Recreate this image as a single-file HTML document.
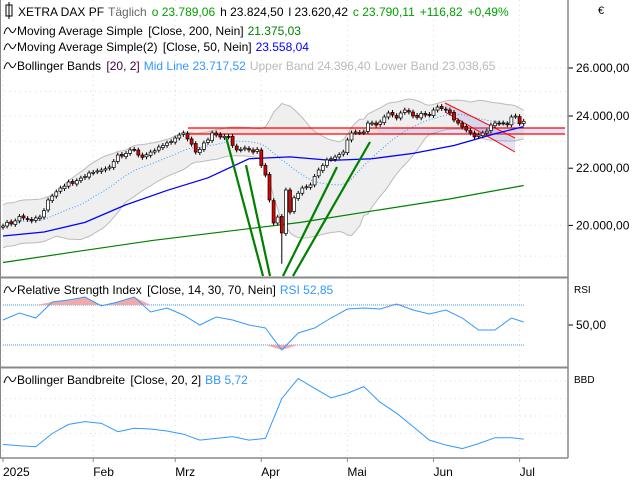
<!DOCTYPE html>
<html><head><meta charset="utf-8"><style>
body{margin:0;background:#fff;}
svg{display:block;font-family:"Liberation Sans","DejaVu Sans",sans-serif;}
</style></head><body>
<svg id="c" width="640" height="480" viewBox="0 0 640 480" xmlns="http://www.w3.org/2000/svg">
<rect x="0" y="0" width="640" height="480" fill="#fff"/>
<g id="grid"></g>
<g id="main"></g>
<g id="rsi"></g>
<g id="bbd"></g>
<g id="frame"></g>
<g font-size="12">
  <rect x="6" y="5" width="6" height="11" fill="none" stroke="#000"/><line x1="9" y1="2" x2="9" y2="19" stroke="#000"/>
  <text x="18" y="16"><tspan fill="#000">XETRA DAX PF</tspan><tspan fill="#666" dx="4">Täglich</tspan><tspan fill="#00a000" dx="5">o 23.789,06</tspan><tspan fill="#000" dx="5">h 23.824,50</tspan><tspan fill="#000" dx="5">l 23.620,42</tspan><tspan fill="#00a000" dx="5">c 23.790,11</tspan><tspan fill="#00a000" dx="5">+116,82</tspan><tspan fill="#00a000" dx="5">+0,49%</tspan></text>
  <path d="M4 34 Q7 24 10 30 T16 28" fill="none" stroke="#000"/>
  <text x="17" y="35">Moving Average Simple <tspan dx="2">[Close, 200, Nein]</tspan><tspan fill="#008000" dx="4">21.375,03</tspan></text>
  <path d="M4 50 Q7 40 10 46 T16 44" fill="none" stroke="#000"/>
  <text x="17" y="51">Moving Average Simple(2) <tspan dx="2">[Close, 50, Nein]</tspan><tspan fill="#0000ff" dx="4">23.558,04</tspan></text>
  <path d="M4 69 Q7 59 10 65 T16 63" fill="none" stroke="#000"/>
  <text x="17" y="70">Bollinger Bands <tspan fill="#400040" dx="2">[20, 2]</tspan><tspan fill="#3399ff" dx="4">Mid Line 23.717,52</tspan><tspan fill="#bbbbbb" dx="4">Upper Band 24.396,40</tspan><tspan fill="#bbbbbb" dx="4">Lower Band 23.038,65</tspan></text>
  <text x="598" y="14" font-size="11">€</text>
</g>
<g font-size="12">
  <path d="M4 293 Q7 283 10 289 T16 287" fill="none" stroke="#000"/>
  <text x="17" y="294">Relative Strength Index <tspan dx="2">[Close, 14, 30, 70, Nein]</tspan><tspan fill="#3399ff" dx="4">RSI 52,85</tspan></text>
  <text x="574" y="293" font-size="10">RSI</text>
  <path d="M4 383 Q7 373 10 379 T16 377" fill="none" stroke="#000"/>
  <text x="17" y="384">Bollinger Bandbreite <tspan dx="2">[Close, 20, 2]</tspan><tspan fill="#3399ff" dx="4">BB 5,72</tspan></text>
  <text x="574" y="383" font-size="10">BBD</text>
</g>
</svg>
<script>
const closes=[19980,20100,20050,20150,20300,20250,20200,20150,20250,20280,20500,20865,21000,21150,21285,21350,21500,21450,21550,21640,21700,21825,
21850,21900,21935,21980,22045,22250,22490,22450,22550,22680,22700,22490,22400,22500,22600,22650,22790,22850,22945,23000,
23135,23250,23330,23100,22900,22600,22700,22945,23060,23330,23250,23175,23200,23175,22850,22680,22700,22755,22680,22600,22700,
22100,21750,20865,20080,20280,19750,21215,20450,20940,21100,21285,21330,21395,21700,21935,22100,22305,22350,22415,22500,
22600,23060,23330,23370,23350,23370,23720,23720,23640,23760,23960,24120,24040,23920,24120,24240,24160,24000,23950,24100,
24040,24040,24240,24360,24300,24240,24120,23840,23720,23565,23445,23330,23175,23250,23330,23400,23640,23720,23700,23720,23650,
23960,24000,23700,23790];
const ma200=[18800,19150,19500,19800,20100,20500,20900,21375];
const ma50=[19650,19780,20100,20700,21200,21650,22350,22420,22290,22350,22550,22850,23300,23580];
// RSI and bandwidth sampled every 4 bars (last value = final bar)
const rsiVals=[55,62,57,73,75,78,69,73,78,63,67,60,50,58,55,50,47,25,42,47,57,66,67,66,71,65,61,65,57,45,45,57,53];
const bbwVals=[3.9,3.5,3.2,7.0,9.6,10.4,9.9,7.5,8.5,8.3,7.7,6.8,5.1,5.6,6.1,5.1,5.6,17.0,22.7,19.9,17.2,18.5,20.4,15.9,12.8,9.0,5.1,3.7,2.7,4.1,5.8,5.8,5.4];
const monthLabels=["2025","Feb","Mrz","Apr","Mai","Jun","Jul"];
const monthIdx=[0,22,42,63,84,105,126];
const priceTicks=[26000,24000,22000,20000];
const priceTickLabels=["26.000,00","24.000,00","22.000,00","20.000,00"];
const rsiLevels=[70,50,30];

const NS="http://www.w3.org/2000/svg";
function el(p,t,a){const e=document.createElementNS(NS,t);for(const k in a)e.setAttribute(k,a[k]);p.appendChild(e);return e;}
const X=i=>3+i*4.1;
const Y=p=>116-600*Math.log(p/24000);
const YR=v=>375-v;
const YB=v=>458-v*3.5;
const G=document.getElementById('grid'),M=document.getElementById('main'),R=document.getElementById('rsi'),B=document.getElementById('bbd'),F=document.getElementById('frame');
const N=closes.length;
const SX=k=>X(Math.min(k*4,N-1));

// grid
monthIdx.forEach((mi,k)=>{
  const l=el(G,'line',{x1:X(mi),x2:X(mi),y1:0,y2:458,stroke:'#ddd','stroke-dasharray':'1,4'});
  
  
  const t=el(F,'text',{x:X(mi),y:476,'font-size':12});
  t.textContent=monthLabels[k];
  
  
  el(F,'line',{x1:X(mi),x2:X(mi),y1:458,y2:462,stroke:'#888'});
});
[26000,25000,24000,23000,22000,21000,20000,19000].forEach(p=>{el(G,'line',{x1:0,x2:568,y1:Y(p),y2:Y(p),stroke:'#ddd','stroke-dasharray':'1,4'});});
priceTicks.forEach((p,k)=>{
  el(F,'line',{x1:568,x2:573,y1:Y(p),y2:Y(p),stroke:'#000'});
  const t=el(F,'text',{x:576,y:Y(p)+4,'font-size':12});
  t.textContent=priceTickLabels[k];
  
  
});

// bollinger
const mid=[],up=[],lo=[];
for(let i=0;i<N;i++){const s=Math.max(0,i-19);const w=closes.slice(s,i+1);const m=w.reduce((a,b)=>a+b,0)/w.length;const sd=Math.sqrt(w.reduce((a,b)=>a+(b-m)*(b-m),0)/w.length);const floor=i<16?0.018:0.012;const sdd=Math.max(sd,m*floor);mid.push(m);up.push(m+2*sdd);lo.push(m-2*sdd);}
let pts=up.map((v,i)=>X(i)+','+Y(v)).join(' ')+' '+lo.map((v,i)=>X(i)+','+Y(v)).reverse().join(' ');
let e=el(M,'polygon',{points:pts,fill:'#efefef',stroke:'none'});


e=el(M,'polyline',{points:up.map((v,i)=>X(i)+','+Y(v)).join(' '),fill:'none',stroke:'#bbb'});


e=el(M,'polyline',{points:lo.map((v,i)=>X(i)+','+Y(v)).join(' '),fill:'none',stroke:'#bbb'});


e=el(M,'polyline',{points:mid.map((v,i)=>X(i)+','+Y(v)).join(' '),fill:'none',stroke:'#3399ff','stroke-dasharray':'1,2'});



// support zone
e=el(M,'rect',{x:188,y:128,width:190,height:6,fill:'rgba(255,120,120,0.15)'});


el(M,'rect',{x:378,y:128,width:187,height:6,fill:'rgba(140,140,230,0.25)'});
el(M,'line',{x1:188,x2:565,y1:128,y2:128,stroke:'#f00','stroke-width':1.3});
el(M,'line',{x1:188,x2:565,y1:134,y2:134,stroke:'#f00','stroke-width':1.3});
e=el(M,'polygon',{points:'445,103 515,138 515,152 445,112',fill:'rgba(140,140,230,0.25)'});


el(M,'line',{x1:445,y1:103,x2:515,y2:138,stroke:'#f00'});
el(M,'line',{x1:445,y1:112,x2:515,y2:152,stroke:'#f00'});

// MAs
const ma200pts=ma200.map((v,k)=>X(k*(N-1)/(ma200.length-1))+','+Y(v)).join(' ');
e=el(M,'polyline',{points:ma200pts,fill:'none',stroke:'#008000','stroke-width':1.2});


const ma50pts=ma50.map((v,k)=>X(Math.min(k*10,N-1))+','+Y(v)).join(' ');
e=el(M,'polyline',{points:ma50pts,fill:'none',stroke:'#0000ff','stroke-width':1.3});



// candles
for(let i=0;i<N;i++){
  const c=closes[i],o=i?closes[i-1]*(1+((i%3)-1)*0.001):c*0.998;
  const hi=Math.max(o,c)*1.004,lw=Math.min(o,c)*(i===68?0.95:0.996);
  const x=X(i);
  el(M,'line',{x1:x,x2:x,y1:Y(hi),y2:Math.min(Y(lw),276),stroke:'#000'});
  const top=Y(Math.max(o,c)),bot=Y(Math.min(o,c));
  const r=el(M,'rect',{x:x-1.5,y:top,width:3,height:Math.max(bot-top,1),fill:c>=o?'#fff':'#e00000',stroke:'#000','stroke-width':0.7});
  
  
}
[[226,137,263,276],[246,165,270,276],[283,276,337,167],[293,276,370,142]].forEach(l=>{
  const t=el(M,'line',{x1:l[0],y1:l[1],x2:l[2],y2:l[3],stroke:'#008000','stroke-width':2.2});
  
  
});

// RSI
rsiLevels.forEach(v=>{el(R,'line',{x1:3,x2:525,y1:YR(v),y2:YR(v),stroke:v===50?'#ddd':'#3399ff','stroke-dasharray':v===50?'1,4':'1,1'});});
let ob='M'+SX(0)+','+YR(70);rsiVals.forEach((v,k)=>{ob+=' L'+SX(k)+','+Math.min(YR(v),YR(70));});ob+=' L'+SX(rsiVals.length-1)+','+YR(70)+'Z';
el(R,'path',{d:ob,fill:'#f4a8a8'});
let os='M'+SX(0)+','+YR(30);rsiVals.forEach((v,k)=>{os+=' L'+SX(k)+','+Math.max(YR(v),YR(30));});os+=' L'+SX(rsiVals.length-1)+','+YR(30)+'Z';
el(R,'path',{d:os,fill:'#f4a8a8'});
e=el(R,'polyline',{points:rsiVals.map((v,k)=>SX(k)+','+YR(v)).join(' '),fill:'none',stroke:'#3399ff'});


el(F,'line',{x1:568,x2:573,y1:325,y2:325,stroke:'#000'});
e=el(F,'text',{x:576,y:329,'font-size':12});e.textContent='50,00';



// BBD
[7,12,17,22].forEach(v=>el(B,'line',{x1:0,x2:568,y1:YB(v),y2:YB(v),stroke:'#ddd','stroke-dasharray':'1,4'}));
e=el(B,'polyline',{points:bbwVals.map((v,k)=>SX(k)+','+YB(v)).join(' '),fill:'none',stroke:'#3399ff'});



// frame
el(F,'line',{x1:568,x2:568,y1:0,y2:458,stroke:'#888','stroke-width':1.5});
el(F,'line',{x1:0,x2:568,y1:277.5,y2:277.5,stroke:'#888','stroke-width':2});
el(F,'line',{x1:0,x2:568,y1:367.5,y2:367.5,stroke:'#888','stroke-width':2});
el(F,'line',{x1:0,x2:568,y1:458,y2:458,stroke:'#888','stroke-width':1.5});
el(F,'line',{x1:0.5,x2:0.5,y1:0,y2:458,stroke:'#888'});
</script>
</body></html>
